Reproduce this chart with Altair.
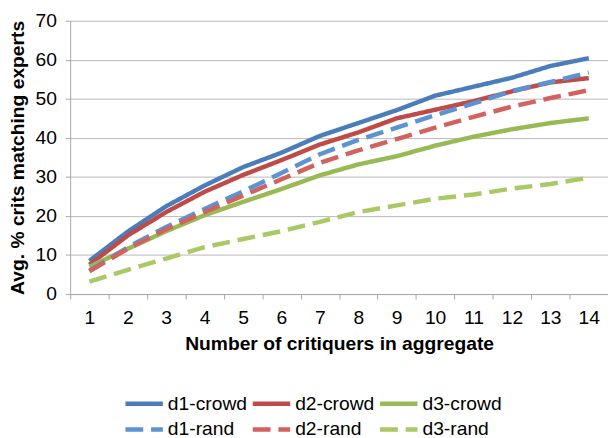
import altair as alt
import pandas as pd

critiquers = list(range(1, 15))
series_names = ["d1-crowd", "d2-crowd", "d3-crowd", "d1-rand", "d2-rand", "d3-rand"]

d1_crowd = [8.5, 16.0, 22.5, 27.8, 32.5, 36.2, 40.5, 43.8, 47.1, 50.8, 53.1, 55.4, 58.4, 60.4]
d2_crowd = [7.5, 15.0, 21.0, 26.2, 30.5, 34.3, 38.3, 41.4, 45.0, 47.2, 49.4, 51.9, 54.2, 55.3]
d3_crowd = [7.0, 11.6, 16.1, 20.2, 23.6, 26.9, 30.4, 33.2, 35.3, 38.0, 40.3, 42.2, 43.8, 45.0]
d1_rand = [6.0, 12.0, 17.2, 21.8, 26.3, 31.0, 35.8, 39.5, 42.6, 45.8, 48.8, 52.0, 54.3, 56.7]
d2_rand = [5.8, 11.6, 16.6, 21.0, 25.2, 29.4, 33.6, 36.8, 39.7, 42.6, 45.4, 48.0, 50.2, 52.2]
d3_rand = [3.2, 6.2, 9.1, 12.0, 14.1, 16.1, 18.5, 21.0, 22.7, 24.4, 25.5, 27.0, 28.2, 29.8]

all_series = [d1_crowd, d2_crowd, d3_crowd, d1_rand, d2_rand, d3_rand]

rows = []
for name, vals in zip(series_names, all_series):
    for n, v in zip(critiquers, vals):
        rows.append({"n": n, "value": v, "series": name})
df = pd.DataFrame(rows)

colors = ["#4A7EBB", "#BE4B48", "#98B954", "#5B93D3", "#D2625D", "#A9C866"]
dashes = [[1, 0], [1, 0], [1, 0], [18, 8], [18, 8], [18, 8]]

legend = alt.Legend(
    title=None,
    orient="none",
    direction="horizontal",
    legendX=51,
    legendY=378,
    columns=3,
    symbolType="M-1,0H7",
    symbolSize=90,
    symbolStrokeWidth=4.5,
    labelFontSize=19.5,
    labelFont="Liberation Sans",
    labelColor="black",
    labelOffset=28.5,
    columnPadding=-5,
    rowPadding=5.5,
    padding=0,
)

chart = (
    alt.Chart(df)
    .mark_line(strokeWidth=4.5, strokeJoin="round")
    .encode(
        x=alt.X(
            "n:O",
            scale=alt.Scale(type="band", paddingInner=0, paddingOuter=0),
            axis=alt.Axis(
                title="Number of critiquers in aggregate",
                labelAngle=0,
                tickBand="extent",
                grid=False,
                tickSize=5,
                labelPadding=10,
                titlePadding=8,
            ),
        ),
        y=alt.Y(
            "value:Q",
            scale=alt.Scale(domain=[0, 70], nice=False),
            axis=alt.Axis(
                values=list(range(0, 71, 10)),
                title="Avg. % crits matching experts",
                grid=True,
                tickSize=5,
                labelPadding=9,
                titlePadding=8,
            ),
        ),
        color=alt.Color(
            "series:N",
            scale=alt.Scale(domain=series_names, range=colors),
            legend=legend,
        ),
        strokeDash=alt.StrokeDash(
            "series:N",
            scale=alt.Scale(domain=series_names, range=dashes),
            legend=legend,
        ),
    )
    .properties(
        width=545,
        height=277,
        autosize=alt.AutoSizeParams(type="none"),
        padding={"left": 63, "top": 10, "right": 0, "bottom": 145},
        background="white",
    )
    .configure_view(stroke=None)
    .configure_axis(
        labelFont="Liberation Sans",
        labelFontSize=19.5,
        labelColor="black",
        titleFont="Liberation Sans",
        titleFontSize=19.5,
        titleFontWeight="bold",
        titleColor="black",
        domainColor="#a8a8a8",
        tickColor="#a8a8a8",
        gridColor="#b8b8b8",
        domainWidth=1,
        tickWidth=1,
        gridWidth=1,
    )
)

chart.save("out.html", embed_options={"renderer": "svg", "actions": False})
